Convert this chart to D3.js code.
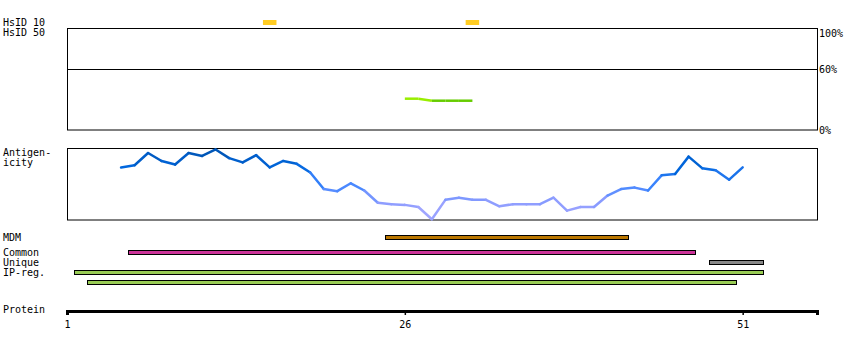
<!DOCTYPE html>
<html>
<head>
<meta charset="utf-8">
<script src="https://cdn.jsdelivr.net/npm/d3@7/dist/d3.min.js"></script>
<style>
  body { margin: 0; background: #fff; }
  svg text { font-family: "DejaVu Sans Mono", monospace; font-size: 10px; fill: #000; }
</style>
</head>
<body>
<script>
// protein length and axis ticks
const proteinLength = 56;
const proteinTicks = [1, 26, 51];

// HsID tracks
const hsid10Residues = [16, 31];
const hsid50Residues = [26, 27, 28, 29, 30, 31];
const hsid50Values = [0.31, 0.31, 0.29, 0.29, 0.29, 0.29];
const hsid50Ticks = [1, 0.6, 0];

// antigenicity, one value per residue
const antigenResidues = [5, 6, 7, 8, 9, 10, 11, 12, 13, 14, 15, 16, 17, 18, 19, 20, 21, 22, 23, 24,
  25, 26, 27, 28, 29, 30, 31, 32, 33, 34, 35, 36, 37, 38, 39, 40, 41, 42, 43, 44, 45, 46, 47, 48,
  49, 50, 51];
const antigenValues = [0.73, 0.76, 0.93, 0.82, 0.77, 0.93, 0.89, 0.98, 0.86, 0.80, 0.90, 0.73, 0.82,
  0.78, 0.66, 0.43, 0.40, 0.51, 0.41, 0.24, 0.22, 0.21, 0.18, 0.01, 0.28, 0.31, 0.28, 0.28, 0.19,
  0.22, 0.22, 0.22, 0.31, 0.13, 0.18, 0.18, 0.34, 0.43, 0.45, 0.41, 0.62, 0.64, 0.88, 0.72, 0.69,
  0.56, 0.73];

// feature bars
const featureLabels = ["MDM", "Common", "Unique", "IP-reg.", ""];
const featureStart = [25, 6, 49, 2, 3];
const featureEnd = [42, 47, 52, 52, 50];
const featureColors = ["#bb7700", "#cc3399", "#888888", "#99cc55", "#99cc55"];

const width = 850, height = 350;
const svg = d3.select("body").append("svg")
    .attr("width", width)
    .attr("height", height);

const x = d3.scaleLinear()
    .domain([1, proteinLength + 0.5])
    .range([67, 817]);

// ---- HsID ----
svg.append("text").attr("x", 3).attr("y", 26).text("HsID 10");
svg.append("text").attr("x", 3).attr("y", 36).text("HsID 50");

svg.selectAll("rect.hs10")
  .data(hsid10Residues)
  .enter().append("rect")
    .attr("class", "hs10")
    .attr("x", d => x(d - 0.5))
    .attr("y", 20)
    .attr("width", d => x(d + 0.5) - x(d - 0.5))
    .attr("height", 5)
    .style("fill", "#ffcc22");

const yHs = d3.scaleLinear().domain([0, 1]).range([130, 29]);

svg.append("rect")
    .attr("x", 67.5).attr("y", 28.5)
    .attr("width", 750).attr("height", 101.5)
    .style("fill", "none").style("stroke", "#000");

svg.append("line")
    .attr("x1", 67).attr("x2", 817)
    .attr("y1", Math.round(yHs(0.6)) + 0.5).attr("y2", Math.round(yHs(0.6)) + 0.5)
    .style("stroke", "#000");

// labels sit just below their level, the top one pushed inside the box
svg.selectAll("text.hsTick")
  .data(hsid50Ticks)
  .enter().append("text")
    .attr("class", "hsTick")
    .attr("x", 819)
    .attr("y", d => Math.max(yHs(d) + 4, 37))
    .text(d => Math.round(d * 100) + "%");

const hsPairs = d3.pairs(hsid50Residues.map((r, i) => [r, hsid50Values[i]]));
svg.selectAll("line.hs50")
  .data(hsPairs)
  .enter().append("line")
    .attr("class", "hs50")
    .attr("x1", d => x(d[0][0]))
    .attr("y1", d => yHs(d[0][1]))
    .attr("x2", d => x(d[1][0]))
    .attr("y2", d => yHs(d[1][1]))
    .style("stroke", d => d[0][1] > 0.3 ? "#99ee00" : "#66cc00")
    .style("stroke-width", 2.5);

// ---- Antigenicity ----
svg.append("text").attr("x", 3).attr("y", 156).text("Antigen-");
svg.append("text").attr("x", 3).attr("y", 166).text("icity");

svg.append("rect")
    .attr("x", 67.5).attr("y", 148.5)
    .attr("width", 750).attr("height", 71.5)
    .style("fill", "none").style("stroke", "#000");

const yAg = d3.scaleLinear().domain([0, 1]).range([220, 148]);
const agColor = d3.scaleLinear()
    .domain([0, 0.25, 0.5, 0.75, 1])
    .range(["#aaaaff", "#8c9cff", "#3d85ff", "#0066dd", "#0050aa"]);

const agPairs = d3.pairs(antigenResidues.map((r, i) => [r, antigenValues[i]]));
svg.selectAll("line.ag")
  .data(agPairs)
  .enter().append("line")
    .attr("class", "ag")
    .attr("x1", d => x(d[0][0]))
    .attr("y1", d => yAg(d[0][1]))
    .attr("x2", d => x(d[1][0]))
    .attr("y2", d => yAg(d[1][1]))
    .style("stroke", d => agColor((d[0][1] + d[1][1]) / 2))
    .style("stroke-width", 2.5)
    .style("stroke-linecap", "round");

// ---- Features ----
const rowTop = [235, 250, 260, 270, 280];
svg.selectAll("text.flabel")
  .data(featureLabels)
  .enter().append("text")
    .attr("class", "flabel")
    .attr("x", 3)
    .attr("y", (d, i) => rowTop[i] + 6)
    .text(d => d);

svg.selectAll("rect.feat")
  .data(featureStart)
  .enter().append("rect")
    .attr("class", "feat")
    .attr("x", d => Math.round(x(d - 0.5)) + 0.5)
    .attr("y", (d, i) => rowTop[i] + 0.5)
    .attr("width", (d, i) => Math.round(x(featureEnd[i] + 0.5)) - Math.round(x(d - 0.5)))
    .attr("height", 4)
    .style("fill", (d, i) => featureColors[i])
    .style("stroke", "#000")
    .style("stroke-width", 1);

// ---- Protein axis ----
svg.append("text").attr("x", 3).attr("y", 313).text("Protein");

const axis = svg.append("g")
    .attr("transform", "translate(0,311)")
    .call(d3.axisBottom(x).tickValues(proteinTicks).tickSize(4).tickSizeOuter(4).tickPadding(6));
axis.select(".domain").style("stroke-width", 3);
axis.selectAll(".tick line").style("stroke-width", 1.5);
axis.selectAll(".tick text")
    .style("font-family", "'DejaVu Sans Mono', monospace")
    .style("font-size", "10px");
</script>
</body>
</html>
